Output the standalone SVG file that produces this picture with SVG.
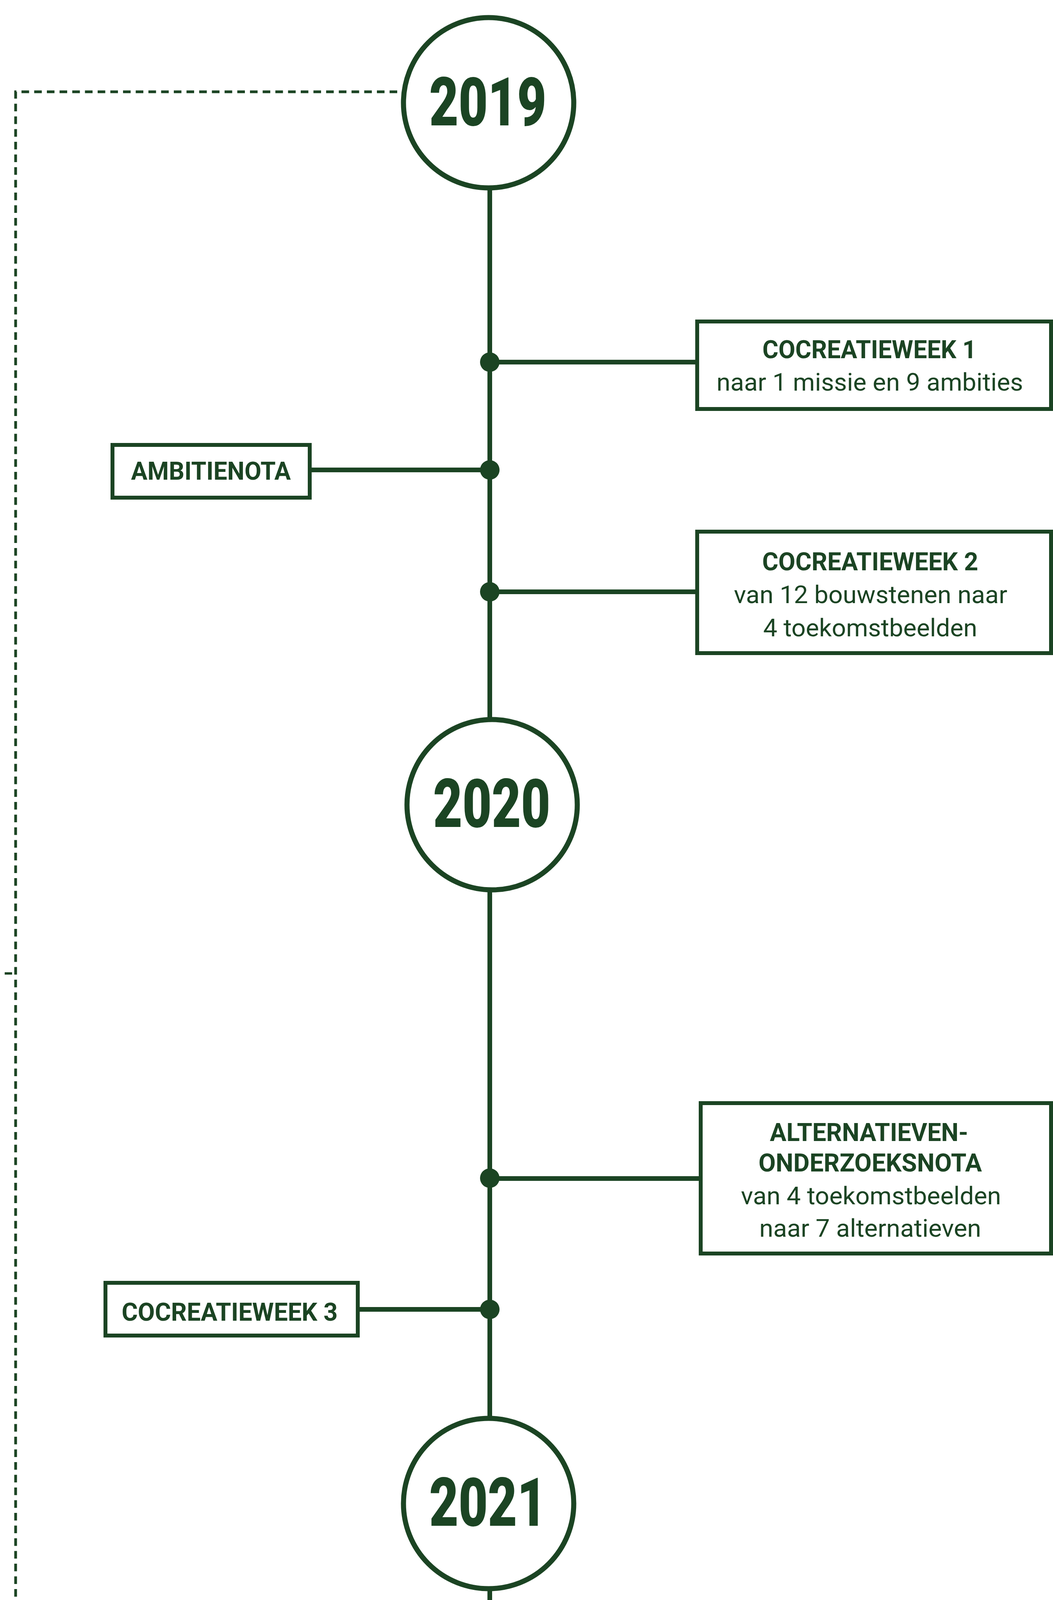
<svg xmlns="http://www.w3.org/2000/svg" width="2696" height="5058" viewBox="0 0 2696 5058">
<style>
.ln{stroke:#1b4423;fill:none}
.main{stroke-width:12}
.con{stroke-width:12}
.dash{stroke-width:7;stroke-dasharray:19.5 13}
.dot{fill:#1b4423}
.box{fill:#fff;stroke:#1b4423;stroke-width:10}
.yr{fill:#fff;stroke:#1b4423;stroke-width:13}
.yt{font-family:Roboto,"Liberation Sans",sans-serif;font-weight:900;font-size:172px;fill:#1b4423}
.b{font-family:Roboto,"Liberation Sans",sans-serif;font-weight:700;font-size:65px;fill:#1b4423;text-anchor:middle}
.r{font-family:Roboto,"Liberation Sans",sans-serif;font-weight:400;font-size:63px;fill:#1b4423;text-anchor:middle}
</style>
<rect width="2696" height="5058" fill="#fff"/>
<g id="connectors">
<path class="ln dash" d="M1017,235 H40 V4970 H1248"/>
<line class="ln" x1="12" y1="2492" x2="31" y2="2492" stroke-width="6"/>
<line class="ln main" x1="1254" y1="470" x2="1254" y2="4973"/>
<line class="ln con" x1="1254" y1="927" x2="1782" y2="927"/>
<line class="ln con" x1="796" y1="1203" x2="1254" y2="1203"/>
<line class="ln con" x1="1254" y1="1515" x2="1782" y2="1515"/>
<line class="ln con" x1="1254" y1="3017" x2="1791" y2="3017"/>
<line class="ln con" x1="919" y1="3352" x2="1254" y2="3352"/>
<line class="ln con" x1="1254" y1="4247" x2="1784" y2="4247"/>
<line class="ln con" x1="749" y1="4540" x2="1254" y2="4540"/>
<line class="ln con" x1="1254" y1="4773" x2="1794" y2="4773"/>
<circle class="dot" cx="1254" cy="927" r="25"/>
<circle class="dot" cx="1254" cy="1203" r="25"/>
<circle class="dot" cx="1254" cy="1515" r="25"/>
<circle class="dot" cx="1254" cy="3016" r="25"/>
<circle class="dot" cx="1254" cy="3352" r="25"/>
<circle class="dot" cx="1254" cy="4247" r="25"/>
<circle class="dot" cx="1254" cy="4540" r="25"/>
<circle class="dot" cx="1254" cy="4773" r="25"/>
<circle class="dot" cx="1254" cy="5001" r="10"/>
<circle class="dot" cx="1254" cy="5037" r="10"/>
</g>
<g id="y2019">
<circle class="yr" cx="1251" cy="263" r="218"/>
<text class="yt" x="1099" y="321" textLength="300" lengthAdjust="spacingAndGlyphs">2019</text>
</g>
<g id="y2020">
<circle class="yr" cx="1260" cy="2060" r="218"/>
<text class="yt" x="1109" y="2117" textLength="300" lengthAdjust="spacingAndGlyphs">2020</text>
</g>
<g id="y2021">
<circle class="yr" cx="1251" cy="3849" r="218"/>
<text class="yt" x="1099" y="3906" textLength="300" lengthAdjust="spacingAndGlyphs">2021</text>
</g>
<g id="cocreatieweek1">
<rect class="box" x="1785" y="823" width="906" height="224"/>
<text class="b" x="2226" y="917" textLength="548" lengthAdjust="spacingAndGlyphs">COCREATIEWEEK 1</text>
<text class="r" x="2227" y="1000" textLength="785" lengthAdjust="spacingAndGlyphs">naar 1 missie en 9 ambities</text>
</g>
<g id="ambitienota">
<rect class="box" x="288" y="1139" width="505" height="135"/>
<text class="b" x="540" y="1228" textLength="409" lengthAdjust="spacingAndGlyphs">AMBITIENOTA</text>
</g>
<g id="cocreatieweek2">
<rect class="box" x="1785" y="1361" width="906" height="311"/>
<text class="b" x="2228" y="1460" textLength="553" lengthAdjust="spacingAndGlyphs">COCREATIEWEEK 2</text>
<text class="r" x="2229" y="1544" textLength="700" lengthAdjust="spacingAndGlyphs">van 12 bouwstenen naar</text>
<text class="r" x="2228" y="1629" textLength="548" lengthAdjust="spacingAndGlyphs">4 toekomstbeelden</text>
</g>
<g id="alternatievenonderzoeksnota">
<rect class="box" x="1794" y="2824" width="897" height="385"/>
<text class="b" x="2225" y="2921" textLength="508" lengthAdjust="spacingAndGlyphs">ALTERNATIEVEN-</text>
<text class="b" x="2228" y="2999" textLength="572" lengthAdjust="spacingAndGlyphs">ONDERZOEKSNOTA</text>
<text class="r" x="2230" y="3083" textLength="666" lengthAdjust="spacingAndGlyphs">van 4 toekomstbeelden</text>
<text class="r" x="2228" y="3166" textLength="568" lengthAdjust="spacingAndGlyphs">naar 7 alternatieven</text>
</g>
<g id="cocreatieweek3">
<rect class="box" x="270" y="3284" width="646" height="135"/>
<text class="b" x="588" y="3381" textLength="553" lengthAdjust="spacingAndGlyphs">COCREATIEWEEK 3</text>
</g>
<g id="ontwerpvoorkeursbesluit">
<rect class="box" x="1787" y="4141" width="904" height="211"/>
<text class="b" x="2225" y="4227" textLength="298" lengthAdjust="spacingAndGlyphs">ONTWERP</text>
<text class="b" x="2227" y="4305" textLength="618" lengthAdjust="spacingAndGlyphs">VOORKEURSBESLUIT</text>
</g>
<g id="openbaaronderzoek">
<rect class="box" x="275" y="4429" width="471" height="197"/>
<text class="b" x="505" y="4515" textLength="326" lengthAdjust="spacingAndGlyphs">OPENBAAR</text>
<text class="b" x="507" y="4593" textLength="366" lengthAdjust="spacingAndGlyphs">ONDERZOEK</text>
</g>
<g id="voorkeursbesluit">
<rect class="box" x="1797" y="4620" width="894" height="303"/>
<text class="b" x="2235" y="4713" textLength="620" lengthAdjust="spacingAndGlyphs">VOORKEURSBESLUIT</text>
<text class="r" x="2234" y="4796" textLength="690" lengthAdjust="spacingAndGlyphs">van 7 alternatieven naar</text>
<text class="r" x="2237" y="4881" textLength="631" lengthAdjust="spacingAndGlyphs">1 voorkeursalternatief</text>
</g>
</svg>
